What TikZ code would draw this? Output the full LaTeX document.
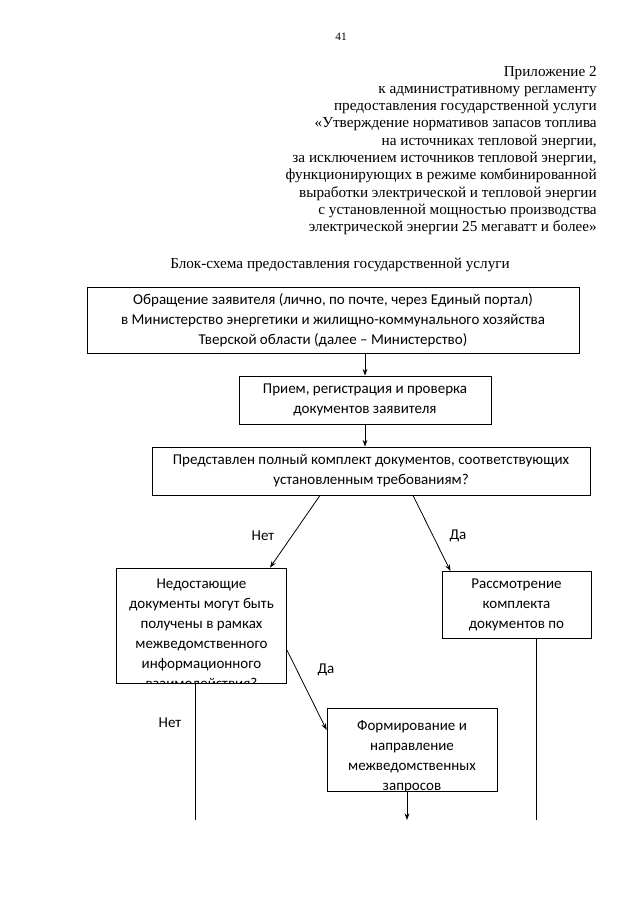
\documentclass[tikz,border=0pt]{standalone}
\usepackage{fontspec}
\setmainfont{Liberation Serif}
\newfontfamily\boxfont{Carlito}
\usetikzlibrary{arrows.meta,calc}
\def\pxu{0.75pt}
\tikzset{
  hdr/.style={anchor=base east, inner sep=0pt, font=\fontsize{11.4}{13}\selectfont},
  box/.style={draw, line width=0.6pt, inner sep=0pt, align=center, font=\boxfont\fontsize{11.25}{15}\selectfont},
  btxt/.style={inner sep=0pt, align=center, font=\boxfont\fontsize{11.25}{15}\selectfont},
  lbl/.style={inner sep=0pt, font=\boxfont\fontsize{11.25}{15}\selectfont},
  conn/.style={line width=0.6pt},
  arr/.style={line width=0.6pt, -{Stealth[length=5pt,width=3.6pt]}}
}
\begin{document}
\begin{tikzpicture}[x=0.75pt,y=-0.75pt]
\useasboundingbox (0,0) rectangle (640,899);
\fill[white] (0,0) rectangle (640,899);
\node[inner sep=0pt, font=\fontsize{8.5}{10}\selectfont] (pg) at (341,37) {41};
\node[hdr] (h1) at (597,76) {Приложение 2};
\node[hdr] (h2) at (597,93.3) {к административному регламенту};
\node[hdr] (h3) at (597,110.6) {предоставления государственной услуги};
\node[hdr] (h4) at (597,127.9) {«Утверждение нормативов запасов топлива};
\node[hdr] (h5) at (597,145.2) {на источниках тепловой энергии,};
\node[hdr] (h6) at (597,162.5) {за исключением источников тепловой энергии,};
\node[hdr] (h7) at (597,179.8) {функционирующих в режиме комбинированной};
\node[hdr] (h8) at (597,197.1) {выработки электрической и тепловой энергии};
\node[hdr] (h9) at (597,214.4) {с установленной мощностью производства};
\node[hdr] (h10) at (597,231.7) {электрической энергии 25 мегаватт и более»};
\node[inner sep=0pt, font=\fontsize{11.4}{13}\selectfont] (title) at (340,265) {Блок-схема предоставления государственной услуги};

\node[box, minimum width=492*\pxu, minimum height=66*\pxu] (b1) at (333,320)
  {Обращение заявителя (лично, по почте, через Единый портал)\\в Министерство энергетики и жилищно-коммунального хозяйства\\Тверской области (далее – Министерство)};
\node[box, minimum width=252*\pxu, minimum height=48*\pxu] (b2) at (365,400)
  {Прием, регистрация и проверка\\документов заявителя};
\node[box, minimum width=438*\pxu, minimum height=48*\pxu] (b3) at (371,471)
  {Представлен полный комплект документов, соответствующих\\установленным требованиям?};
\node[box, minimum width=170*\pxu, minimum height=115*\pxu] (b4) at (201.5,625.5) {};
\begin{scope}
  \clip (b4.south west) rectangle (b4.north east);
  \node[btxt] (b4t) at (201.5,635) {Недостающие\\документы могут быть\\получены в рамках\\межведомственного\\информационного\\взаимодействия?};
\end{scope}
\node[box, minimum width=149*\pxu, minimum height=67*\pxu] (b5) at (516.5,605)
  {Рассмотрение\\комплекта\\документов по};
\node[box, minimum width=170*\pxu, minimum height=83*\pxu] (b6) at (412,749.5) {};
\begin{scope}
  \clip (b6.south west) rectangle (b6.north east);
  \node[btxt] (b6t) at (412,757) {Формирование и\\направление\\межведомственных\\запросов};
\end{scope}

\coordinate (e1) at (195,820);
\coordinate (e2) at (536,820);
\coordinate (e3) at (407,820);

\draw[arr] (b1.south -| b2.north) -- (b2.north);
\draw[arr] (b2.south) -- (b2.south |- b3.north);
\draw[arr] ($(b3.south)+(-51,0)$) -- ($(b4.north)+(68.5,0)$);
\draw[arr] ($(b3.south)+(42,0)$) -- ($(b5.north)+(-66,0)$);
\draw[arr] ($(b4.east)+(0,24.5)$) -- ($(b6.west)+(0,-19.5)$);
\draw[conn] (b4.south -| e1) -- (e1);
\draw[conn] (b5.south -| e2) -- (e2);
\draw[arr] (b6.south -| e3) -- (e3);

\node[lbl] (l1) at (263,536) {Нет};
\node[lbl] (l2) at (458,536) {Да};
\node[lbl] (l3) at (326,670) {Да};
\node[lbl] (l4) at (170,723) {Нет};
\end{tikzpicture}
\end{document}
